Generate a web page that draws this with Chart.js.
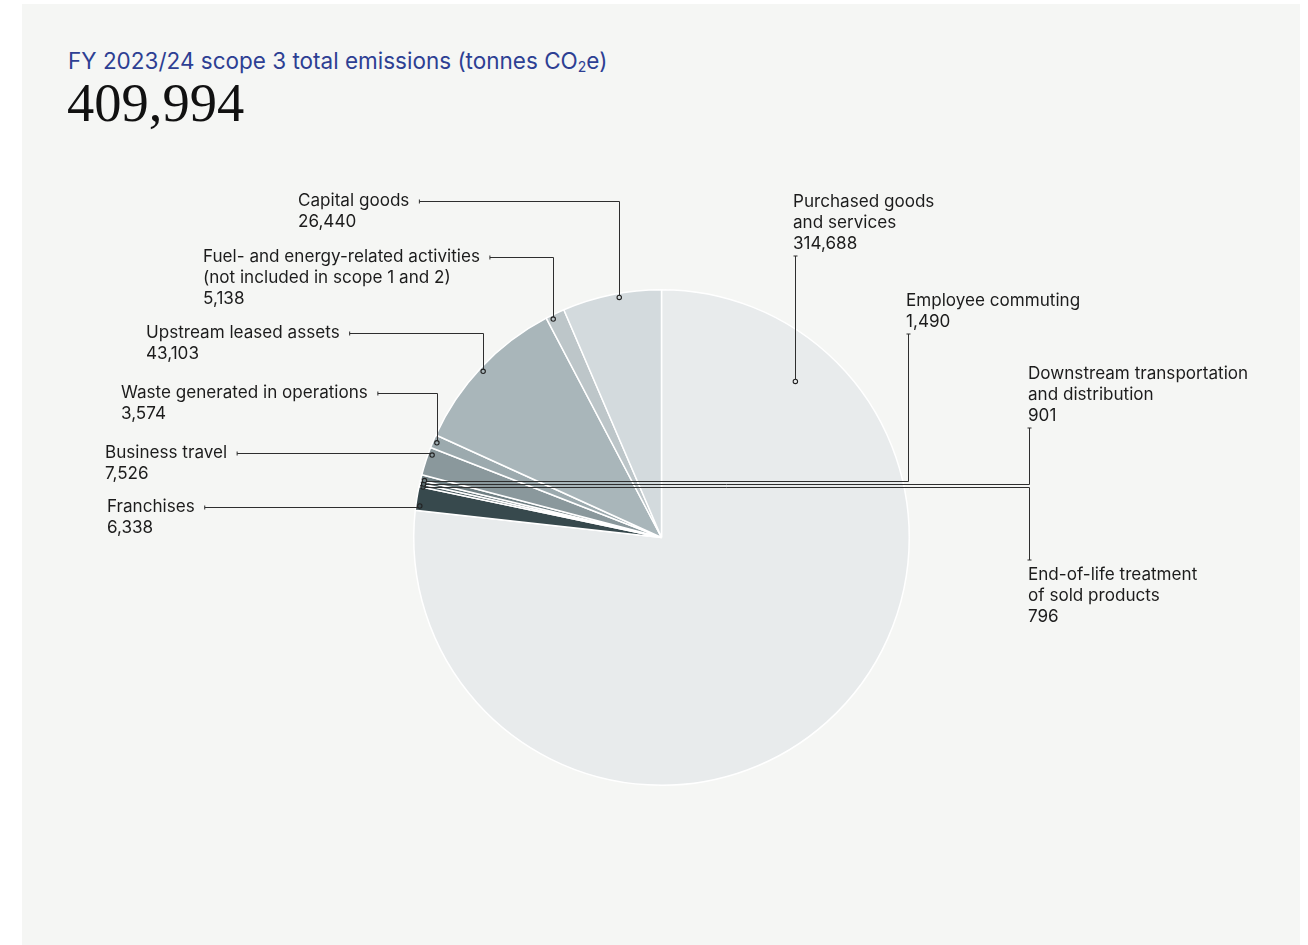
<!DOCTYPE html>
<html>
<head>
<meta charset="utf-8">
<script src="https://cdn.jsdelivr.net/npm/chart.js@4.4.1/dist/chart.umd.min.js"></script>
<style>
  html, body { margin: 0; padding: 0; background: #ffffff; }
  body { width: 1308px; height: 945px; position: relative; overflow: hidden; }
  #panel { position: absolute; left: 22px; top: 4px; width: 1278px; height: 941px; background: #f5f6f4; }
  #title { position: absolute; left: 68px; top: 47px; font-family: Inter, "Noto Sans", sans-serif; font-size: 22.5px; color: #2d3f93; white-space: nowrap; }
  #title sub { font-size: 14px; vertical-align: -3px; line-height: 0; }
  #total { position: absolute; left: 67px; top: 71px; font-family: "Liberation Serif", "DejaVu Serif", serif; font-size: 54.5px; color: #111; white-space: nowrap; }
  #c { position: absolute; left: 0; top: 0; }
</style>
</head>
<body>
<div id="panel"></div>
<div id="title">FY 2023/24 scope 3 total emissions (tonnes CO<sub>2</sub>e)</div>
<div id="total"></div>
<canvas id="c" width="1308" height="945"></canvas>
<script>
// ---- data ----
const categories = [
  'Purchased goods and services',
  'Franchises',
  'End-of-life treatment of sold products',
  'Downstream transportation and distribution',
  'Employee commuting',
  'Business travel',
  'Waste generated in operations',
  'Upstream leased assets',
  'Fuel- and energy-related activities (not included in scope 1 and 2)',
  'Capital goods'
];
const values = [314688, 6338, 796, 901, 1490, 7526, 3574, 43103, 5138, 26440];
const labelLines = [
  ['Purchased goods', 'and services'],
  ['Franchises'],
  ['End-of-life treatment', 'of sold products'],
  ['Downstream transportation', 'and distribution'],
  ['Employee commuting'],
  ['Business travel'],
  ['Waste generated in operations'],
  ['Upstream leased assets'],
  ['Fuel- and energy-related activities', '(not included in scope 1 and 2)'],
  ['Capital goods']
];
const totalValue = 409994;

// ---- styles ----
const sliceColors = ['#e8ebec', '#37494d', '#4b5c60', '#5d6e72', '#6f7f83', '#8a989c', '#9caaae', '#a9b6ba', '#bdc6c9', '#d3dadd'];
// label placement (layout only)
const labelLayout = [
  { x: 793,  y: 201, route: 'v',  frac: 0.147, rf: 0.83, tickY: 256 },
  { x: 107,  y: 506, route: 'h',  frac: 0.2 },
  { x: 1028, y: 574, route: 'vh', frac: 0.1, lineX: 1029, tickY: 560 },
  { x: 1028, y: 373, route: 'vh', frac: 0.1, lineX: 1029, tickY: 428 },
  { x: 906,  y: 300, route: 'vh', frac: 0.1, lineX: 908,  tickY: 334 },
  { x: 105,  y: 452, route: 'h',  frac: 0.77 },
  { x: 121,  y: 392, route: 'h',  frac: 0.5 },
  { x: 146,  y: 332, route: 'h',  frac: 0.49 },
  { x: 203,  y: 256, route: 'h',  frac: 0.3 },
  { x: 298,  y: 200, route: 'h',  frac: 0.57 }
];

document.getElementById('total').textContent = totalValue.toLocaleString('en-US');

const fmt = v => v.toLocaleString('en-US');

const leaderPlugin = {
  id: 'leaders',
  afterDatasetsDraw(chart) {
    const ctx = chart.ctx;
    const arcs = chart.getDatasetMeta(0).data;
    ctx.save();
    ctx.font = '17.1px Inter, "Noto Sans", sans-serif';
    ctx.textBaseline = 'middle';
    ctx.fillStyle = '#1c1c1c';
    const lh = 21;
    labelLayout.forEach((L, i) => {
      const arc = arcs[i];
      const p = arc.getProps(['x', 'y', 'startAngle', 'endAngle', 'outerRadius'], true);
      const ang = p.startAngle + L.frac * (p.endAngle - p.startAngle);
      const r = L.rf ? p.outerRadius * L.rf : p.outerRadius - 4;
      const dx = p.x + r * Math.cos(ang);
      const dy = p.y + r * Math.sin(ang);
      // text
      const lines = labelLines[i].concat([fmt(values[i])]);
      lines.forEach((t, k) => ctx.fillText(t, L.x, L.y + 1 + k * lh));
      // leader line
      ctx.strokeStyle = '#2e2e2e';
      ctx.lineWidth = 1;
      ctx.beginPath();
      if (L.route === 'h') {
        const sx = L.x + ctx.measureText(labelLines[i][0]).width + 10;
        const sy = Math.round(L.y + 1) + 0.5;
        ctx.moveTo(sx, sy - 2); ctx.lineTo(sx, sy + 2);
        ctx.moveTo(sx, sy);
        const vx = Math.round(dx) + 0.5;
        ctx.lineTo(vx, sy);
        ctx.lineTo(vx, dy);
      } else if (L.route === 'v') {
        const vx = Math.round(dx) + 0.5;
        ctx.moveTo(vx - 2, L.tickY); ctx.lineTo(vx + 2, L.tickY);
        ctx.moveTo(vx, L.tickY);
        ctx.lineTo(vx, dy);
      } else {
        const vx = L.lineX + 0.5;
        const hy = Math.round(dy) + 0.5;
        ctx.moveTo(vx - 2, L.tickY); ctx.lineTo(vx + 2, L.tickY);
        ctx.moveTo(vx, L.tickY);
        ctx.lineTo(vx, hy);
        ctx.lineTo(dx, hy);
      }
      ctx.stroke();
      // dot
      ctx.beginPath();
      ctx.arc(dx, dy, 2.2, 0, Math.PI * 2);
      ctx.fillStyle = sliceColors[i];
      ctx.fill();
      ctx.strokeStyle = '#222';
      ctx.lineWidth = 1.1;
      ctx.stroke();
      ctx.fillStyle = '#1c1c1c';
    });
    ctx.restore();
  }
};

new Chart(document.getElementById('c'), {
  type: 'pie',
  data: {
    labels: categories,
    datasets: [{
      data: values,
      backgroundColor: sliceColors,
      borderColor: '#ffffff',
      borderWidth: 1.5
    }]
  },
  options: {
    responsive: false,
    animation: false,
    devicePixelRatio: 1,
    layout: { padding: { left: 413, right: 398, top: 289, bottom: 159 } },
    plugins: {
      legend: { display: false },
      tooltip: { enabled: false }
    }
  },
  plugins: [leaderPlugin]
});
</script>
</body>
</html>
